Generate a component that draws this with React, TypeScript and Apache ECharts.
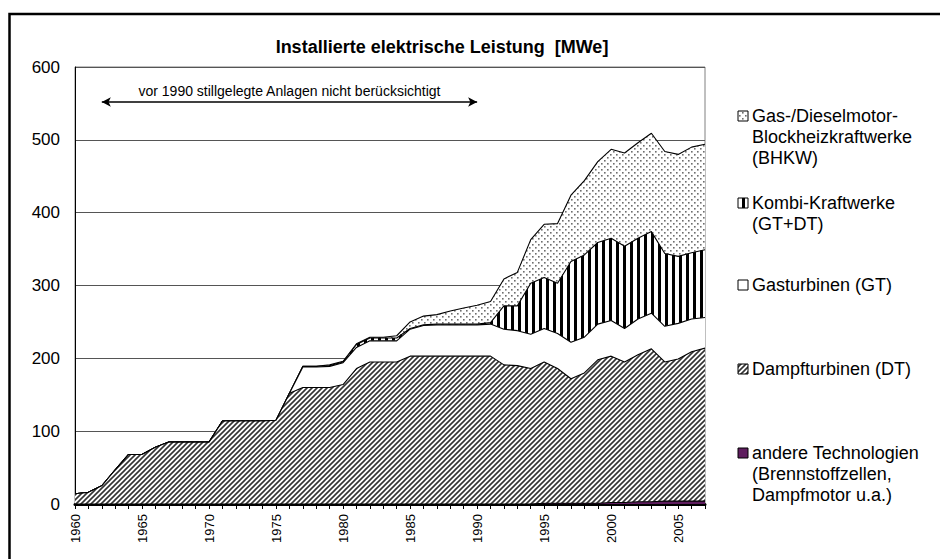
import React, { useEffect, useRef } from "react";
import * as echarts from "echarts";

const years = [
  "1960", "1961", "1962", "1963", "1964", "1965", "1966", "1967", "1968", "1969",
  "1970", "1971", "1972", "1973", "1974", "1975", "1976", "1977", "1978", "1979",
  "1980", "1981", "1982", "1983", "1984", "1985", "1986", "1987", "1988", "1989",
  "1990", "1991", "1992", "1993", "1994", "1995", "1996", "1997", "1998", "1999",
  "2000", "2001", "2002", "2003", "2004", "2005", "2006", "2007",
];

// andere Technologien (Brennstoffzellen, Dampfmotor u.a.)
const andere = [
  0, 0, 0, 0, 0, 0, 0, 0, 0, 0,
  0, 0, 0, 0, 0, 0, 0, 0, 0, 0,
  0, 0, 0, 0, 0, 0, 0, 0, 0, 0,
  0, 0, 0, 0, 0, 1, 1, 1, 1, 1,
  2, 2, 3, 3, 4, 4, 4, 4,
];

// Dampfturbinen (DT)
const dampfturbinen = [
  14, 16, 25, 47, 68, 68, 78, 85, 85, 85,
  85, 114, 114, 114, 114, 115, 152, 160, 160, 160,
  164, 186, 195, 195, 195, 203, 203, 203, 203, 203,
  203, 203, 191, 190, 186, 194, 185, 171, 179, 197,
  201, 193, 202, 210, 191, 195, 205, 210,
];

// Gasturbinen (GT)
const gasturbinen = [
  0, 0, 0, 0, 0, 0, 0, 0, 0, 0,
  0, 0, 0, 0, 0, 0, 0, 28, 28, 29,
  30, 29, 29, 29, 29, 37, 42, 43, 43, 43,
  43, 44, 49, 48, 47, 46, 48, 50, 49, 49,
  49, 46, 49, 49, 49, 49, 45, 42,
];

// Kombi-Kraftwerke (GT+DT)
const kombi = [
  0, 0, 0, 0, 0, 0, 0, 0, 0, 0,
  0, 0, 0, 0, 0, 0, 0, 1, 1, 1,
  1, 4, 4, 4, 4, 1, 1, 1, 1, 1,
  1, 2, 32, 34, 70, 70, 69, 111, 113, 112,
  113, 113, 111, 112, 100, 92, 91, 93,
];

// Gas-/Dieselmotor-Blockheizkraftwerke (BHKW)
const bhkw = [
  0, 0, 0, 0, 0, 0, 0, 0, 0, 0,
  0, 0, 0, 0, 0, 0, 0, 0, 0, 1,
  1, 1, 1, 1, 3, 9, 12, 13, 18, 22,
  26, 29, 37, 46, 60, 73, 82, 91, 102, 111,
  122, 128, 131, 135, 140, 140, 145, 145,
];

const yTicks = [0, 100, 200, 300, 400, 500, 600];

const titleText = "Installierte elektrische Leistung  [MWe]";
const noteText = "vor 1990 stillgelegte Anlagen nicht berücksichtigt";
const noteFrom = "1962";
const noteTo = "1990";
const noteLevel = 552;

const FONT = "'Liberation Sans', Arial, Helvetica, sans-serif";
const PURPLE = "#5e1d5e";

function makeCanvas(w: number, h: number, draw: (ctx: CanvasRenderingContext2D) => void) {
  const c = document.createElement("canvas");
  c.width = w;
  c.height = h;
  const ctx = c.getContext("2d")!;
  ctx.fillStyle = "#ffffff";
  ctx.fillRect(0, 0, w, h);
  draw(ctx);
  return { image: c, repeat: "repeat", imageWidth: w, imageHeight: h } as any;
}

function hatch() {
  return makeCanvas(5, 5, (ctx) => {
    ctx.strokeStyle = "#333333";
    ctx.lineWidth = 1.6;
    ctx.beginPath();
    ctx.moveTo(-1, 6);
    ctx.lineTo(6, -1);
    ctx.moveTo(-3, 3);
    ctx.lineTo(3, -3);
    ctx.moveTo(2, 8);
    ctx.lineTo(8, 2);
    ctx.stroke();
  });
}

function stripes() {
  return makeCanvas(7, 4, (ctx) => {
    ctx.fillStyle = "#000000";
    ctx.fillRect(0, 0, 3, 4);
  });
}

function dots() {
  return makeCanvas(6, 6, (ctx) => {
    ctx.fillStyle = "#6e6e6e";
    ctx.fillRect(1, 1, 1.6, 1.6);
    ctx.fillRect(4, 4, 1.6, 1.6);
  });
}

export default function App() {
  const ref = useRef<HTMLDivElement>(null);

  useEffect(() => {
    if (!ref.current) return;
    const chart = echarts.init(ref.current, null, { renderer: "svg" });

    const pHatch = hatch();
    const pStripes = stripes();
    const pDots = dots();

    const areaSeries = (name: string, data: number[], fill: any, z: number) => ({
      name,
      type: "line",
      stack: "total",
      data,
      symbol: "none",
      smooth: false,
      z,
      lineStyle: { color: "#000", width: 1.1 },
      areaStyle: { color: fill, opacity: 1 },
      emphasis: { disabled: true },
    });

    const legendItems = [
      { text: "Gas-/Dieselmotor-\nBlockheizkraftwerke\n(BHKW)", fill: pDots, y: 116 },
      { text: "Kombi-Kraftwerke\n(GT+DT)", fill: pStripes, y: 203 },
      { text: "Gasturbinen (GT)", fill: "#ffffff", y: 285 },
      { text: "Dampfturbinen (DT)", fill: pHatch, y: 369 },
      { text: "andere Technologien\n(Brennstoffzellen,\nDampfmotor u.a.)", fill: PURPLE, y: 453 },
    ];

    const legendGraphics: any[] = [];
    legendItems.forEach((it) => {
      legendGraphics.push({
        type: "rect",
        shape: { x: 738, y: it.y - 5, width: 10, height: 10 },
        style: { fill: it.fill, stroke: "#000", lineWidth: 1 },
        z: 10,
      });
      legendGraphics.push({
        type: "text",
        x: 752,
        y: it.y - 10.5,
        style: {
          text: it.text,
          font: `18px ${FONT}`,
          fill: "#000",
          lineHeight: 21,
          verticalAlign: "top",
        },
        z: 10,
      });
    });

    const option: any = {
      animation: false,
      title: {
        text: titleText,
        left: 437,
        top: 33,
        textAlign: "center",
        textStyle: { fontFamily: FONT, fontSize: 18, fontWeight: "bold", color: "#000" },
      },
      grid: {
        left: 75,
        right: 235,
        top: 67,
        bottom: 55,
        show: true,
        borderColor: "#808080",
        borderWidth: 1,
        backgroundColor: "transparent",
      },
      xAxis: {
        type: "category",
        data: years,
        boundaryGap: false,
        axisLine: { show: true, lineStyle: { color: "#000", width: 3 } },
        axisTick: { show: true, interval: 0, length: 5, lineStyle: { color: "#000", width: 1 } },
        axisLabel: {
          interval: 4,
          rotate: 90,
          margin: 10,
          fontFamily: FONT,
          fontSize: 13,
          color: "#000",
        },
        splitLine: { show: false },
      },
      yAxis: {
        type: "value",
        min: yTicks[0],
        max: yTicks[yTicks.length - 1],
        interval: 100,
        axisLine: { show: true, lineStyle: { color: "#000", width: 1 } },
        axisTick: { show: false },
        axisLabel: { margin: 15, fontFamily: FONT, fontSize: 17, color: "#000" },
        splitLine: { show: true, lineStyle: { color: "#555", width: 1 } },
      },
      series: [
        {
          ...areaSeries("andere Technologien", andere, PURPLE, 6),
          markLine: {
            silent: true,
            symbol: ["arrow", "arrow"],
            symbolSize: [7, 9],
            lineStyle: { color: "#000", width: 1.5, type: "solid" },
            label: {
              show: true,
              position: "insideMiddleTop",
              formatter: noteText,
              fontFamily: FONT,
              fontSize: 14,
              color: "#000",
              distance: 4,
            },
            emphasis: { disabled: true },
            data: [[{ coord: [noteFrom, noteLevel] }, { coord: [noteTo, noteLevel] }]],
          },
        },
        areaSeries("Dampfturbinen (DT)", dampfturbinen, pHatch, 5),
        areaSeries("Gasturbinen (GT)", gasturbinen, "#ffffff", 4),
        areaSeries("Kombi-Kraftwerke (GT+DT)", kombi, pStripes, 3),
        areaSeries("Gas-/Dieselmotor-Blockheizkraftwerke (BHKW)", bhkw, pDots, 2),
      ],
      graphic: [
        {
          type: "rect",
          shape: { x: 9.5, y: 14, width: 1200, height: 800 },
          style: { fill: "none", stroke: "#000", lineWidth: 2.5 },
          silent: true,
          z: 20,
        },
        ...legendGraphics,
      ],
    };

    chart.setOption(option);
    return () => chart.dispose();
  }, []);

  return (
    <div
      ref={ref}
      style={{ position: "fixed", left: 0, top: 0, width: 940, height: 559, background: "#fff" }}
    />
  );
}
